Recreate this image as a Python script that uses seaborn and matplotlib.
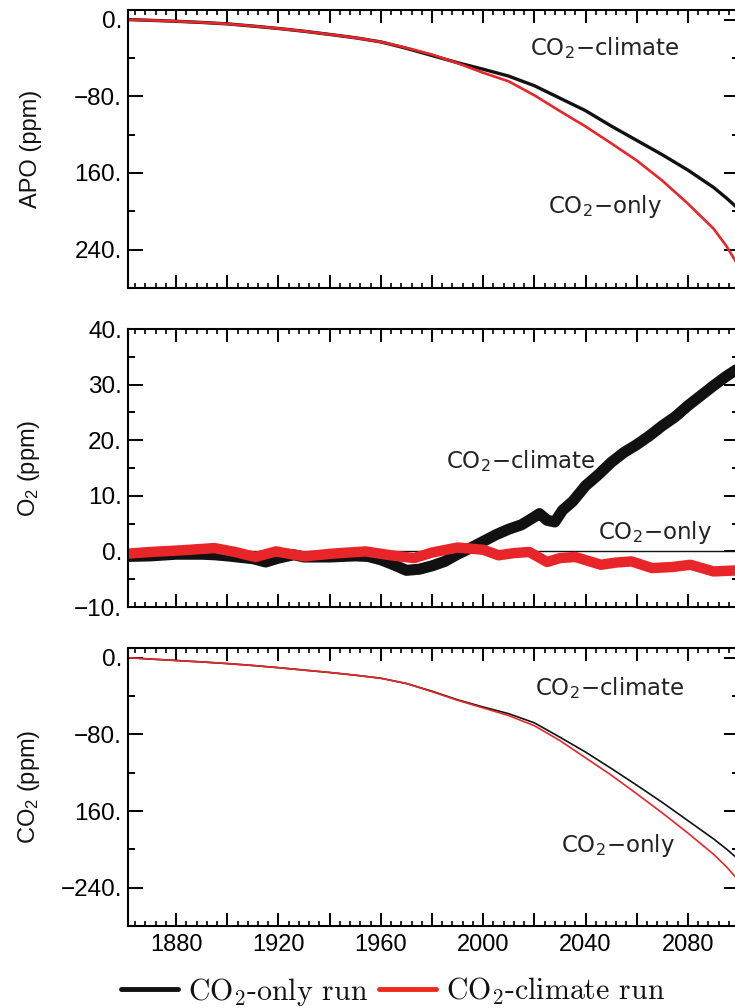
import matplotlib
matplotlib.use("Agg")
import matplotlib.pyplot as plt
import seaborn as sns
import numpy as np
import pandas as pd
from matplotlib.lines import Line2D
from matplotlib.ticker import MultipleLocator, FixedLocator

# ---------------- data ----------------
years = [1861, 1870, 1880, 1890, 1900, 1910, 1920, 1930, 1940, 1950, 1960, 1970,
         1980, 1990, 2000, 2010, 2020, 2030, 2040, 2050, 2060, 2070, 2080, 2090, 2095, 2100]

apo_black = [0, 0.8, 1.8, 3.0, 4.5, 6.8, 9.3, 12.2, 15.5, 19.0, 23.3, 30.0,
             37.5, 45.0, 51.8, 59.0, 69.0, 82.0, 95.0, 111.0, 126.0, 141.0, 157.0, 175.0, 186.0, 198.0]
apo_red = [0, 0.8, 1.8, 3.0, 4.5, 6.8, 9.3, 12.2, 15.5, 19.0, 23.3, 29.5,
           36.5, 45.5, 55.5, 64.5, 79.0, 95.5, 111.5, 129.0, 147.0, 168.0, 192.0, 218.0, 236.0, 258.0]

co2_black = [0, 1.5, 3.0, 4.5, 6.2, 8.2, 10.5, 13.0, 15.5, 18.3, 21.5, 27.0,
             35.0, 44.0, 51.5, 58.5, 68.0, 83.0, 98.5, 115.5, 133.0, 151.0, 170.0, 189.0, 199.5, 211.0]
co2_red = [0, 1.5, 3.0, 4.5, 6.2, 8.2, 10.5, 13.0, 15.5, 18.3, 21.5, 27.0,
           35.5, 44.5, 52.5, 60.5, 71.0, 86.5, 104.5, 122.5, 142.0, 162.0, 183.0, 205.0, 218.0, 233.0]

o2_black_years = [1861, 1870, 1880, 1890, 1895, 1900, 1910, 1915, 1920, 1926, 1930,
                  1940, 1950, 1955, 1960, 1965, 1970, 1975, 1980, 1985, 1990,
                  1995, 2000, 2005, 2010, 2015, 2020, 2022, 2025, 2028, 2031,
                  2035, 2040, 2045, 2050, 2055, 2060, 2065, 2070, 2075, 2080,
                  2085, 2090, 2095, 2100]
o2_black = [-0.9, -0.8, -0.5, -0.5, -0.6, -0.8, -1.3, -1.9, -1.2, -0.6, -1.0,
            -1.0, -0.8, -0.9, -1.5, -2.4, -3.4, -3.2, -2.6, -1.8, -0.5,
            0.6, 1.8, 3.0, 4.0, 4.8, 6.2, 6.8, 5.6, 5.3, 7.4,
            9.0, 11.8, 13.8, 16.0, 17.8, 19.2, 20.8, 22.6, 24.2, 26.2,
            28.0, 29.8, 31.5, 33.0]

o2_red_years = [1861, 1870, 1882, 1895, 1903, 1911, 1919, 1930, 1941, 1954, 1964,
                1973, 1980, 1990, 2000, 2006, 2012, 2018, 2025, 2030, 2036,
                2046, 2052, 2058, 2066, 2074, 2081, 2090, 2100]
o2_red = [-0.4, -0.1, 0.2, 0.6, -0.1, -1.0, 0.0, -0.9, -0.4, 0.0, -0.7,
          -1.2, -0.2, 0.7, 0.3, -0.7, -0.3, -0.1, -1.9, -1.2, -1.0,
          -2.4, -2.0, -1.8, -3.0, -2.8, -2.4, -3.6, -3.4]

o2_only_years = [1861, 2100]
o2_only = [0.0, 0.0]

xtick_years = [1880, 1900, 1920, 1940, 1960, 1980, 2000, 2020, 2040, 2060, 2080]
xtick_labels = ["1880", "", "1920", "", "1960", "", "2000", "", "2040", "", "2080"]

apo_ticks = [0, 80, 160, 240]
apo_ticklabels = ["0.", "\u221280.", "160.", "240."]
o2_ticks = [-10, 0, 10, 20, 30, 40]
o2_ticklabels = ["\u221210.", "0.", "10.", "20.", "30.", "40."]
co2_ticks = [0, 80, 160, 240]
co2_ticklabels = ["0.", "\u221280.", "160.", "\u2212240."]

legend_labels = ["CO$_2$-only run", "CO$_2$-climate run"]

BLACK = "#111111"
RED = "#e8262a"
LEG_RED = "#ee2a1c"

# ---------------- style ----------------
sns.set_theme(style="ticks")
plt.rcParams.update({
    "font.family": ["Liberation Sans", "DejaVu Sans"],
    "mathtext.fontset": "custom",
    "mathtext.rm": "Liberation Sans",
    "mathtext.it": "Liberation Sans:italic",
    "mathtext.bf": "Liberation Sans:bold",
    "axes.linewidth": 1.5,
    "axes.edgecolor": "black",
    "xtick.color": "black",
    "ytick.color": "black",
    "text.color": "#111111",
    "axes.labelcolor": "#111111",
})

fig = plt.figure(figsize=(7.35, 10.08), dpi=100)
left, width, height = 0.1735, 0.832, 0.2758
ax_apo = fig.add_axes([left, 0.7143, width, height])
ax_o2 = fig.add_axes([left, 0.3978, width, height])
ax_co2 = fig.add_axes([left, 0.0813, width, height])

# ---------------- panels ----------------
sns.lineplot(x=years, y=apo_black, ax=ax_apo, color=BLACK, lw=2.4, estimator=None)
sns.lineplot(x=years, y=apo_red, ax=ax_apo, color=RED, lw=1.9, estimator=None)

sns.lineplot(x=o2_only_years, y=o2_only, ax=ax_o2, color=BLACK, lw=1.0, estimator=None)
sns.lineplot(x=o2_black_years, y=o2_black, ax=ax_o2, color=BLACK, lw=8, estimator=None,
             solid_joinstyle="round")
sns.lineplot(x=o2_red_years, y=o2_red, ax=ax_o2, color=RED, lw=7.5, estimator=None,
             solid_joinstyle="round")

sns.lineplot(x=years, y=co2_black, ax=ax_co2, color=BLACK, lw=1.2, estimator=None)
sns.lineplot(x=years, y=co2_red, ax=ax_co2, color=RED, lw=1.2, estimator=None)

ann_kw = dict(fontsize=16.5, family="DejaVu Sans", math_fontfamily="dejavusans",
              ha="left", va="center", color="#222222")
ax_apo.text(2018.3, 30, "CO$_2$\u2212climate", **ann_kw)
ax_apo.text(2025.3, 195, "CO$_2$\u2212only", **ann_kw)
ax_o2.text(1985.5, 16.2, "CO$_2$\u2212climate", **ann_kw)
ax_o2.text(2044.8, 3.4, "CO$_2$\u2212only", **ann_kw)
ax_co2.text(2020.2, 31.6, "CO$_2$\u2212climate", **ann_kw)
ax_co2.text(2030.4, 195.5, "CO$_2$\u2212only", **ann_kw)

# ---------------- axes formatting ----------------
for ax in (ax_apo, ax_o2, ax_co2):
    ax.set_xlim(1861, 2100)
    ax.xaxis.set_major_locator(FixedLocator(xtick_years))
    ax.xaxis.set_minor_locator(MultipleLocator(4))
    ax.tick_params(axis="x", which="major", direction="in", length=9.5, width=1.4,
                   top=True, bottom=True, labelsize=17, pad=6)
    ax.tick_params(axis="x", which="minor", direction="in", length=3.6, width=1.2,
                   top=True, bottom=True)
    ax.tick_params(axis="y", which="major", direction="in", length=10.5, width=1.4,
                   left=True, right=True, labelsize=17.5, pad=4)
    ax.tick_params(axis="y", which="minor", direction="in", length=5, width=1.4,
                   left=True, right=True)
    ax.set_xlabel("")
    for s in ax.spines.values():
        s.set_linewidth(1.5)
        s.set_color("black")

for ax in (ax_apo, ax_o2):
    ax.set_xticklabels([])
ax_co2.set_xticks(xtick_years)
ax_co2.set_xticklabels(xtick_labels)

ax_apo.set_ylim(280, -10)
ax_apo.set_yticks(apo_ticks)
ax_apo.set_yticklabels(apo_ticklabels)
ax_apo.yaxis.set_minor_locator(MultipleLocator(40))
ax_apo.set_ylabel("APO (ppm)", fontsize=17)

ax_o2.set_ylim(-10, 40)
ax_o2.set_yticks(o2_ticks)
ax_o2.set_yticklabels(o2_ticklabels)
ax_o2.yaxis.set_minor_locator(MultipleLocator(5))
ax_o2.set_ylabel("O$_2$ (ppm)", fontsize=17)

ax_co2.set_ylim(280, -10)
ax_co2.set_yticks(co2_ticks)
ax_co2.set_yticklabels(co2_ticklabels)
ax_co2.yaxis.set_minor_locator(MultipleLocator(40))
ax_co2.set_ylabel("CO$_2$ (ppm)", fontsize=17)

for ax in (ax_apo, ax_o2, ax_co2):
    ax.yaxis.set_label_coords(-0.14, 0.5)

# ---------------- legend ----------------
handles = [Line2D([], [], color=BLACK, lw=3.5), Line2D([], [], color=LEG_RED, lw=3.5)]
leg = fig.legend(handles, legend_labels, loc="center", bbox_to_anchor=(0.535, 0.016),
                 ncol=2, frameon=False, prop={"family": "cmr10", "size": 21.5},
                 handlelength=1.9, handletextpad=0.35, columnspacing=0.35)
for t in leg.get_texts():
    t.set_math_fontfamily("cm")

fig.savefig("out.png", dpi=100)
